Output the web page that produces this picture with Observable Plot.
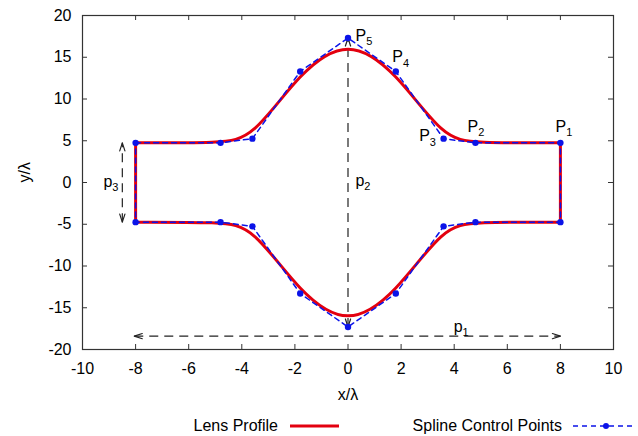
<!DOCTYPE html>
<html><head><meta charset="utf-8">
<script src="https://cdn.jsdelivr.net/npm/d3@7"></script>
<script src="https://cdn.jsdelivr.net/npm/@observablehq/plot@0.6"></script>
<style>
body{margin:0;background:#fff;font-family:"Liberation Sans",Arial,sans-serif;}
#wrap{position:relative;width:638px;height:436px;background:#fff;}
#legend{position:absolute;left:0;top:406px;width:638px;height:30px;font-size:16px;color:#000;}
.lt{position:absolute;top:11px;line-height:18px;white-space:nowrap;text-align:right;}
.sw{position:absolute;top:0;}
</style></head><body><div id="wrap"><div id="chart"></div><div id="legend"></div></div>
<script>
// axis ticks
const xTicks = [-10, -8, -6, -4, -2, 0, 2, 4, 6, 8, 10];
const yTicks = [-20, -15, -10, -5, 0, 5, 10, 15, 20];
// spline control points (upper edge left->right, lower edge right->left)
const topX = [-8, -4.8, -3.6, -1.8, 0, 1.8, 3.6, 4.8, 8];
const topY = [4.75, 4.75, 5.25, 13.3, 17.3, 13.3, 5.25, 4.75, 4.75];
const botX = [8, 4.8, 3.6, 1.8, 0, -1.8, -3.6, -4.8, -8];
const botY = [-4.75, -4.75, -5.25, -13.3, -17.3, -13.3, -5.25, -4.75, -4.75];
// dimension arrows p1, p2, p3
const arrowX1 = [-8.05, 0, -8.5];
const arrowY1 = [-18.4, -17.3, -4.75];
const arrowX2 = [8, 0, -8.5];
const arrowY2 = [-18.4, 17.3, 4.75];
// point labels
const capText = ["P", "P", "P", "P", "P"];
const capSub = ["1", "2", "3", "4", "5"];
const capX = [7.82, 4.5, 2.68, 1.67, 0.28];
const capY = [6.7, 6.7, 5.55, 15.0, 17.6];
const lowText = ["p", "p", "p"];
const lowSub = ["1", "2", "3"];
const lowX = [3.98, 0.28, -9.21];
const lowY = [-17.3, 0.2, 0.1];
// legend
const legendLabels = ["Lens Profile", "Spline Control Points"];

const RED = "#e3000f", BLUE = "#0b13e8", INK = "#222";

const pts = (xs, ys) => xs.map((x, i) => ({x, y: ys[i]}));
const topPts = pts(topX, topY), botPts = pts(botX, botY);
const lens = [
  ...topPts.map(d => ({...d, s: "top"})),
  ...[topPts[topPts.length - 1], botPts[0]].map(d => ({...d, s: "right"})),
  ...botPts.map(d => ({...d, s: "bottom"})),
  ...[botPts[botPts.length - 1], topPts[0]].map(d => ({...d, s: "left"}))
];
const loop = [...topPts, ...botPts, topPts[0]];
const arrows = arrowX1.map((x1, i) => ({x1, y1: arrowY1[i], x2: arrowX2[i], y2: arrowY2[i]}));
const heads = arrows.flatMap(a => [
  {x: a.x2, y: a.y2, r: Math.atan2(a.x2 - a.x1, a.y2 - a.y1) * 180 / Math.PI},
  {x: a.x1, y: a.y1, r: Math.atan2(a.x1 - a.x2, a.y1 - a.y2) * 180 / Math.PI}
]);
const caps = capX.map((x, i) => ({x, y: capY[i], t: capText[i], s: capSub[i]}));
const lows = lowX.map((x, i) => ({x, y: lowY[i], t: lowText[i], s: lowSub[i]}));

const headShape = {draw(ctx, l) { ctx.moveTo(-2.6, -l + 8); ctx.lineTo(0, -l); ctx.lineTo(2.6, -l + 8); }};

const W = 638, H = 406, ML = 82, MR = 25, MT = 15, MB = 57;
const fw = W - ML - MR, fh = H - MT - MB;
const fmt = d => String(d);

const chart = Plot.plot({
  width: W, height: H,
  marginLeft: ML, marginRight: MR, marginTop: MT, marginBottom: MB,
  style: {fontFamily: "'Liberation Sans', Arial, sans-serif", fontSize: "16px", color: "#000", background: "#fff"},
  x: {domain: [-10, 10], ticks: xTicks, tickFormat: fmt, tickSize: 0, tickPadding: 13, label: null},
  y: {domain: [-20, 20], ticks: yTicks, tickFormat: fmt, tickSize: 0, tickPadding: 11, label: null},
  marks: [
    Plot.ruleX(xTicks, {insetTop: fh - 5, stroke: "#333"}),
    Plot.ruleX(xTicks, {insetBottom: fh - 5, stroke: "#333"}),
    Plot.ruleY(yTicks, {insetRight: fw - 5, stroke: "#333"}),
    Plot.ruleY(yTicks, {insetLeft: fw - 5, stroke: "#333"}),
    Plot.frame({stroke: "#333", strokeWidth: 1.2}),
    Plot.link(arrows, {x1: "x1", y1: "y1", x2: "x2", y2: "y2", stroke: INK, strokeWidth: 1.2, strokeDasharray: "9,6"}),
    Plot.vector(heads, {x: "x", y: "y", rotate: "r", length: 8, anchor: "end", shape: headShape, stroke: INK, strokeWidth: 1.2, fill: "none"}),
    Plot.line(lens, {x: "x", y: "y", z: "s", curve: "basis", stroke: RED, strokeWidth: 3}),
    Plot.line(loop, {x: "x", y: "y", stroke: BLUE, strokeWidth: 1.5, strokeDasharray: "5,4"}),
    Plot.dot([...topPts, ...botPts], {x: "x", y: "y", r: 3.2, fill: BLUE}),
    Plot.text(caps, {x: "x", y: "y", text: "t", textAnchor: "start", lineAnchor: "middle", fontSize: 16, fill: "#000"}),
    Plot.text(caps, {x: "x", y: "y", text: "s", textAnchor: "start", lineAnchor: "middle", fontSize: 11, dx: 10.7, dy: 6, fill: "#000"}),
    Plot.text(lows, {x: "x", y: "y", text: "t", textAnchor: "start", lineAnchor: "middle", fontSize: 16, fill: "#000"}),
    Plot.text(lows, {x: "x", y: "y", text: "s", textAnchor: "start", lineAnchor: "middle", fontSize: 11, dx: 8.9, dy: 6, fill: "#000"}),
    Plot.text(["x/λ"], {frameAnchor: "bottom", dy: 45, lineAnchor: "middle", fontSize: 16, fill: "#000"}),
    Plot.text(["y/λ"], {frameAnchor: "left", dx: -58, rotate: -90, lineAnchor: "middle", fontSize: 16, fill: "#000"})
  ]
});
document.getElementById("chart").appendChild(chart);

// legend below the chart
const lg = document.getElementById("legend");
const t1 = document.createElement("div");
t1.className = "lt"; t1.textContent = legendLabels[0];
t1.style.right = (638 - 278) + "px";
lg.appendChild(t1);
const s1 = document.createElementNS("http://www.w3.org/2000/svg", "svg");
s1.setAttribute("class", "sw"); s1.setAttribute("width", 50); s1.setAttribute("height", 30);
s1.style.left = "290px";
s1.innerHTML = `<line x1="0" y1="20" x2="49" y2="20" stroke="${RED}" stroke-width="3"/>`;
lg.appendChild(s1);
const t2 = document.createElement("div");
t2.className = "lt"; t2.textContent = legendLabels[1];
t2.style.right = (638 - 562) + "px";
lg.appendChild(t2);
const s2 = document.createElementNS("http://www.w3.org/2000/svg", "svg");
s2.setAttribute("class", "sw"); s2.setAttribute("width", 62); s2.setAttribute("height", 30);
s2.style.left = "573px";
s2.innerHTML = `<line x1="0" y1="20" x2="60" y2="20" stroke="${BLUE}" stroke-width="1.5" stroke-dasharray="5,4"/><circle cx="33" cy="20" r="3" fill="${BLUE}"/>`;
lg.appendChild(s2);
</script></body></html>
